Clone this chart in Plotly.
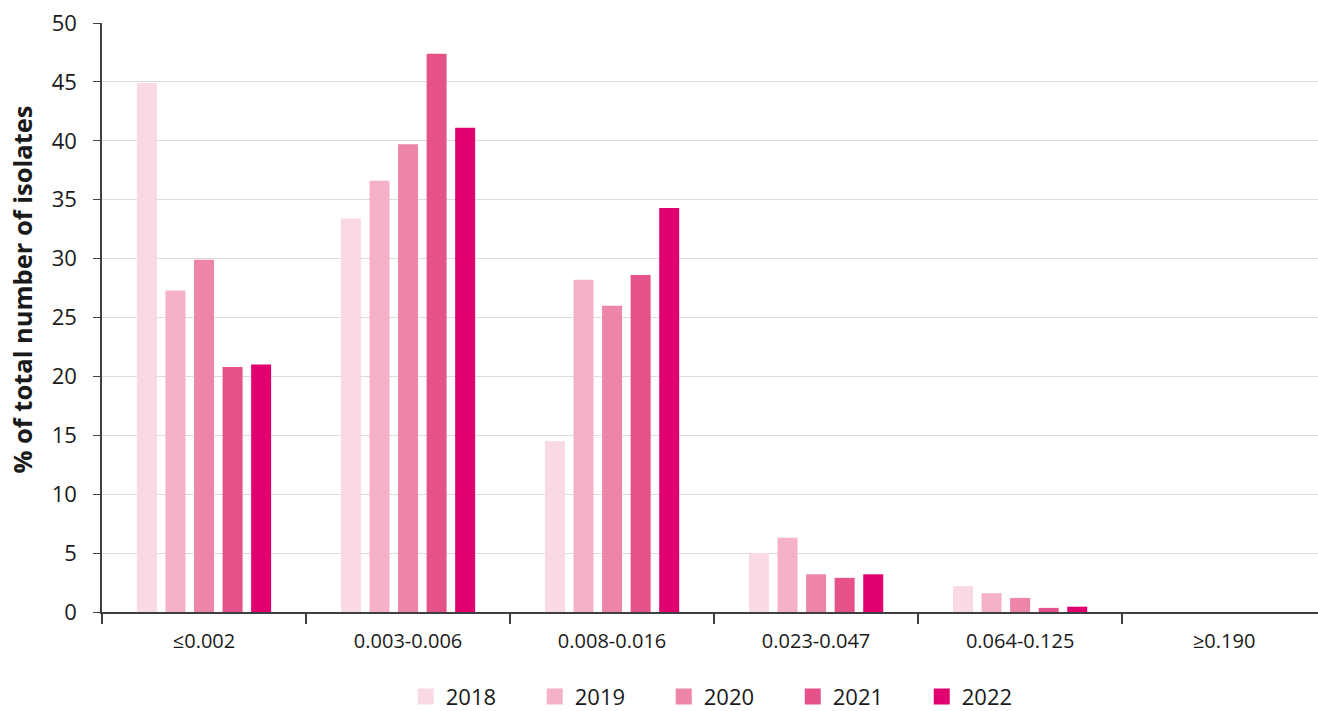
import plotly.graph_objects as go

# MIC ranges (mg/L) and share of isolates per year
categories = ["≤0.002", "0.003-0.006", "0.008-0.016", "0.023-0.047", "0.064-0.125", "≥0.190"]
years = ["2018", "2019", "2020", "2021", "2022"]
pct_2018 = [44.9, 33.4, 14.5, 5.0, 2.2, 0.0]
pct_2019 = [27.3, 36.6, 28.2, 6.3, 1.6, 0.0]
pct_2020 = [29.9, 39.7, 26.0, 3.2, 1.2, 0.0]
pct_2021 = [20.8, 47.4, 28.6, 2.9, 0.35, 0.0]
pct_2022 = [21.0, 41.1, 34.3, 3.2, 0.45, 0.0]
y_ticks = list(range(0, 51, 5))
y_title = "% of total number of isolates"

series = [pct_2018, pct_2019, pct_2020, pct_2021, pct_2022]
colors = ["#f9d9e4", "#f4b1c8", "#ed85a6", "#e5528a", "#e0006f"]

font_family = "Open Sans"
text_color = "#1a1a1a"

fig = go.Figure()
for year, values, color in zip(years, series, colors):
    fig.add_trace(go.Bar(
        x=categories,
        y=values,
        name=year,
        marker=dict(color=color, line=dict(width=0)),
        showlegend=False,
        legendgroup=year,
    ))

# Legend keys as larger square swatches (no data drawn)
for year, color in zip(years, colors):
    fig.add_trace(go.Scatter(
        x=[None],
        y=[None],
        mode="markers",
        name=year,
        legendgroup=year,
        marker=dict(symbol="square", size=18, color=color, line=dict(width=0)),
        showlegend=True,
    ))

fig.update_layout(
    width=1318,
    height=711,
    barmode="group",
    bargap=0.3,
    bargroupgap=0.3,
    plot_bgcolor="white",
    paper_bgcolor="white",
    margin=dict(l=102, r=0, t=23, b=99, autoexpand=False),
    font=dict(family=font_family, color=text_color),
    legend=dict(
        orientation="h",
        x=0.515,
        xanchor="center",
        xref="paper",
        yref="container",
        y=0.02,
        yanchor="middle",
        font=dict(size=22, family=font_family, color=text_color),
        entrywidth=84,
        entrywidthmode="pixels",
        itemsizing="trace",
        traceorder="normal",
    ),
    annotations=[dict(
        text=f"<b>{y_title}</b>",
        textangle=-90,
        xref="paper",
        yref="paper",
        x=-0.066,
        y=0.547,
        xanchor="center",
        yanchor="middle",
        showarrow=False,
        font=dict(size=25.5, family=font_family, color=text_color),
    )],
)

fig.update_xaxes(
    type="category",
    range=[-0.5, 5.46],
    showline=True,
    linecolor="#404040",
    linewidth=2,
    ticks="outside",
    tickson="boundaries",
    ticklen=10,
    tickwidth=2,
    tickcolor="#404040",
    showgrid=False,
    automargin=False,
    tickfont=dict(size=20, family=font_family, color=text_color),
    ticklabelstandoff=10,
)

fig.update_yaxes(
    range=[0, 50],
    tickvals=y_ticks,
    showline=True,
    linecolor="#404040",
    linewidth=1.5,
    ticks="outside",
    ticklen=7,
    tickwidth=1,
    tickcolor="#404040",
    showgrid=True,
    gridcolor="#dcdcdc",
    gridwidth=1,
    zeroline=False,
    automargin=False,
    tickfont=dict(size=22, family=font_family, color=text_color),
    ticklabelstandoff=12,
)

fig.write_html("out.html")
